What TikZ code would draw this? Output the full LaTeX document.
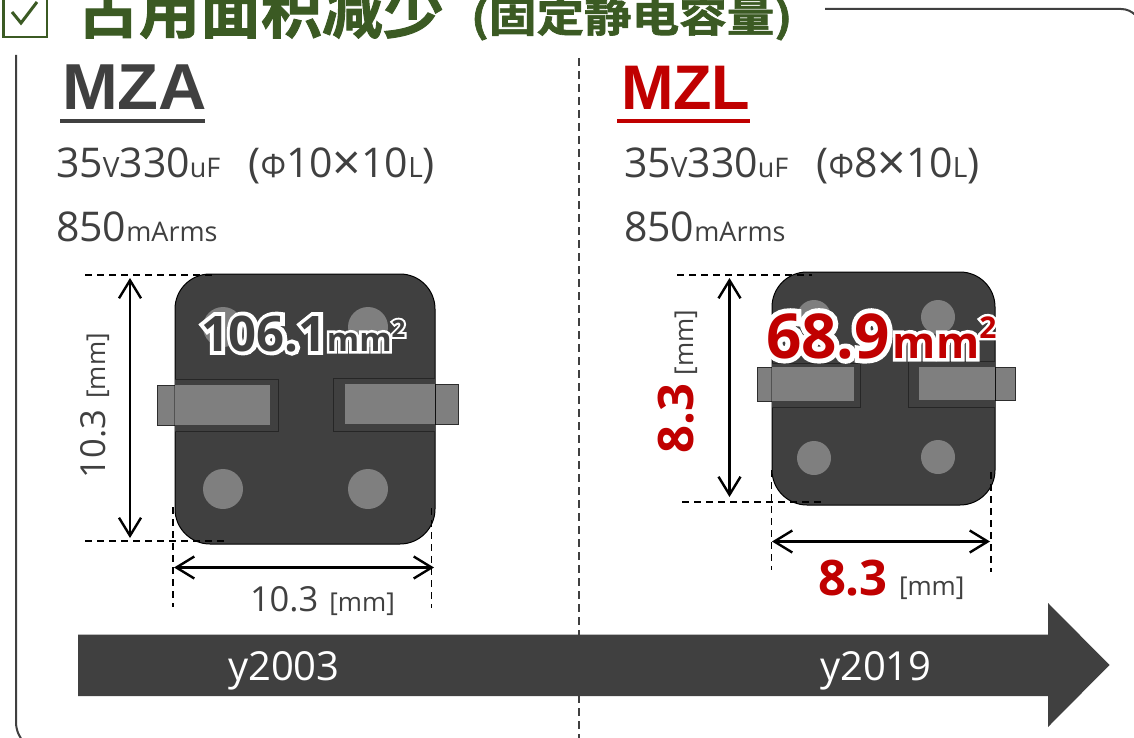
\documentclass[tikz,border=0pt]{standalone}
\usepackage{fontspec}
\usetikzlibrary{arrows.meta}
\setmainfont{Open Sans}
\newfontfamily\cjkb[BoldFont={Noto Sans CJK SC Bold},BoldFeatures={FakeBold=1.5}]{Noto Sans CJK SC}
\newfontfamily\hdfont{Liberation Sans}
\newfontfamily\halofont[BoldFeatures={FakeBold=16}]{Open Sans}
\definecolor{ink}{HTML}{404040}
\definecolor{lead}{HTML}{7F7F7F}
\definecolor{redc}{HTML}{C00000}
\definecolor{greenc}{HTML}{3B5A23}
\newcommand{\fsz}[1]{\fontsize{#1}{#1}\selectfont}
\newcommand{\areaA}{\bfseries\fsz{49}106.1\fsz{33}mm\raisebox{14pt}{\fsz{24}2}}
\newcommand{\areaB}{\bfseries\fsz{62}68.9\hspace{3pt}\fsz{44}mm\raisebox{20pt}{\fsz{30}2}}
\tikzset{
 txt/.style={anchor=base west,inner sep=0pt,outer sep=0pt,text=ink},
 halo/.style={txt,text=white},
 dim/.style={dashed,dash pattern=on 7pt off 5pt,line width=1.3pt,black},
 dimarrow/.style={{Straight Barb[length=18pt,width=22pt,line width=2.4pt]}-{Straight Barb[length=18pt,width=22pt,line width=2.4pt]},line width=2.4pt,black,shorten <=0pt,shorten >=0pt},
 body/.style={fill=ink,draw=black,line width=1pt,rounded corners=35pt},
 well/.style={draw=black!85,line width=1pt,fill=ink},
 leadb/.style={fill=lead,draw=ink!70!black,line width=1pt},
 pad/.style={fill=lead,draw=none},
}
\begin{document}
\begin{tikzpicture}[x=1pt,y=-1pt]
\useasboundingbox (0,0) rectangle (1134,738);
\clip (0,0) rectangle (1134,738);
\fill[white] (0,0) rectangle (1134,738);
% frame
\draw[ink,line width=2pt,rounded corners=30pt] (16,55) -- (16,752) -- (70,752);
\draw[ink,line width=2pt,rounded corners=20pt] (825,9) -- (1141,9) -- (1141,60);
% centre divider
\coordinate (divtop) at (579,58);
\coordinate (divbot) at (579,738);
\draw[ink,line width=1.6pt,dash pattern=on 8pt off 5pt] (divtop) -- (divbot);
% title
\draw[greenc,line width=2.2pt] (3.5,-8) rectangle (47,37);
\draw[greenc,line width=3pt] (12,12) -- (21,23) -- (37,2);
\node[txt,text=greenc] (title) at (78,33) {\cjkb\bfseries\fsz{61}占用面积减少};
\node[txt,text=greenc,xscale=1.16] (subtitle) at (471,32) {\cjkb\bfseries\fsz{41}(固定静电容量)};
% headings
\node[txt,xscale=1.03] (mza) at (62,110) {\hdfont\bfseries\fsz{65}MZA};
\draw[ink,line width=4pt] (60,121.5) -- (205,121.5);
\node[txt,text=redc] (mzl) at (621,110) {\hdfont\bfseries\fsz{63}MZL};
\draw[redc,line width=4pt] (617,121.5) -- (750,121.5);
% specs
\node[txt] (speca) at (56,178) {\fsz{41}35{\fsz{28}V}330{\fsz{27}uF}\hspace{28pt}({\fsz{32}Φ}10\raisebox{-3pt}{\fsz{50}×}10{\fsz{28}L})};
\node[txt] (rmsa) at (56,241) {\fsz{41}850{\fsz{27}mArms}};
\node[txt] (specb) at (624,178) {\fsz{41}35{\fsz{28}V}330{\fsz{27}uF}\hspace{28pt}({\fsz{32}Φ}8\raisebox{-3pt}{\fsz{50}×}10{\fsz{28}L})};
\node[txt] (rmsb) at (624,241) {\fsz{41}850{\fsz{27}mArms}};
% MZA part
\draw[leadb] (157,385) rectangle (175,425);
\draw[leadb] (435,384) rectangle (458,424);
\draw[body] (175,274) rectangle (435,544);
\draw[well] (175,379) -- (278,379) -- (278,431) -- (175,431);
\draw[well] (435,378) -- (333,378) -- (333,431) -- (435,431);
\fill[lead] (175,385) rectangle (270,425);
\fill[lead] (345,384) rectangle (435,424);
\fill[pad] (223,327) circle (20);
\fill[pad] (368,327) circle (20);
\fill[pad] (223,489) circle (20);
\fill[pad] (368,489) circle (20);
% MZA dimensions
\draw[dim] (85,275) -- (213,275);
\draw[dim] (85,541) -- (227,541);
\draw[dim] (173,507) -- (173,607);
\draw[dim] (431.5,508) -- (431.5,608);
\coordinate (a1) at (130,278);
\coordinate (a2) at (130,538);
\coordinate (a3) at (174,567.5);
\coordinate (a4) at (434,567.5);
\draw[dimarrow] (a1) -- (a2);
\draw[dimarrow] (a3) -- (a4);
\node[txt,rotate=90] (dima) at (105,478) {\fsz{34.5}10.3\hspace{11pt}\fsz{26}[mm]};
\node[txt] (dimah) at (250,611) {\fsz{34.5}10.3\hspace{11pt}\fsz{26}[mm]};
\node[halo] (areaahalo) at (201,351) {\halofont\areaA};
\node[txt] (areaa) at (201,351) {\areaA};
% MZL part
\draw[leadb] (757,367) rectangle (772,401);
\draw[leadb] (995,367) rectangle (1015,400);
\draw[body] (772,272) rectangle (995,505);
\draw[well] (772,363) -- (860,363) -- (860,407) -- (772,407);
\draw[well] (995,361) -- (908,361) -- (908,407) -- (995,407);
\fill[lead] (772,367) rectangle (854,401);
\fill[lead] (919,367) rectangle (995,400);
\fill[pad] (814,317) circle (17);
\fill[pad] (938,317) circle (17);
\fill[pad] (814,458) circle (17);
\fill[pad] (938,457) circle (17);
% MZL dimensions
\draw[dim] (677,275) -- (812,275);
\draw[dim] (682,502) -- (825,502);
\draw[dim] (771.5,470) -- (771.5,570);
\draw[dim] (991,472) -- (991,572);
\coordinate (b1) at (729.5,278);
\coordinate (b2) at (729.5,497);
\coordinate (b3) at (772,541.5);
\coordinate (b4) at (990,541.5);
\draw[dimarrow] (b1) -- (b2);
\draw[dimarrow] (b3) -- (b4);
\node[txt,rotate=90,text=redc] (dimb) at (693,453) {\bfseries\fsz{49}8.3};
\node[txt,rotate=90] (dimbu) at (693,375) {\fsz{26}[mm]};
\node[txt,text=redc] (dimbh) at (818,595) {\bfseries\fsz{49}8.3};
\node[txt] (dimbhu) at (899,595) {\fsz{26}[mm]};
\node[halo] (areabhalo) at (766,358) {\halofont\areaB};
\node[txt,text=redc] (areab) at (766,358) {\areaB};
% time arrow
\fill[ink] (78,634.5) -- (1048,634.5) -- (1048,603) -- (1109.5,665) -- (1048,727) -- (1048,696) -- (78,696) -- cycle;
\node[txt,text=white] (y1) at (228,680) {\fsz{40}y2003};
\node[txt,text=white] (y2) at (820,680) {\fsz{40}y2019};
\end{tikzpicture}
\end{document}
